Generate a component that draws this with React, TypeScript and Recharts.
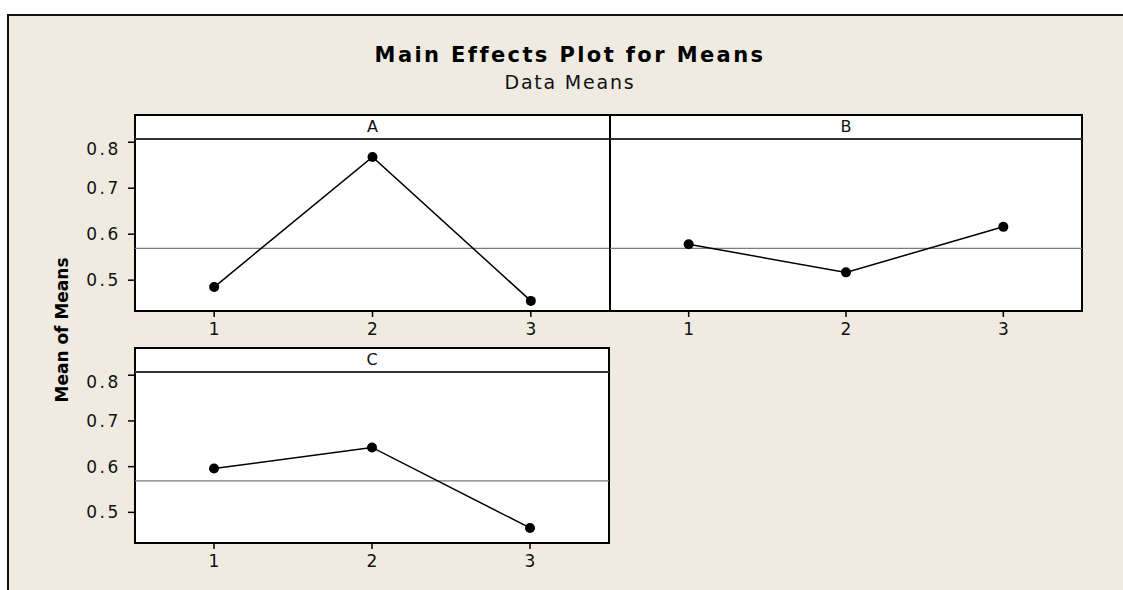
import React from 'react';
import { LineChart, Line, XAxis, YAxis, ReferenceLine } from 'recharts';

// factor levels and the data means
const LEVELS = [1, 2, 3];
const MEANS_A = [0.485, 0.768, 0.455];
const MEANS_B = [0.578, 0.517, 0.616];
const MEANS_C = [0.596, 0.642, 0.466];
const GRAND_MEAN = 0.569;
const Y_TICKS = [0.5, 0.6, 0.7, 0.8];
const Y_DOMAIN = [0.433, 0.807];

const FONT = '"DejaVu Sans", Verdana, sans-serif';
const BG = '#EFEBE1';
const HEADER_H = 24;
const AXIS_W = 60;
const AXIS_H = 36;

interface PanelProps {
  label: string;
  values: number[];
  x: number;
  y: number;
  w: number;
  h: number;
  showY?: boolean;
}

function Panel({ label, values, x, y, w, h, showY }: PanelProps) {
  const data = LEVELS.map((level, i) => ({ level, mean: values[i] }));
  const offset = showY ? AXIS_W : 0;
  return (
    <>
      <div
        style={{
          position: 'absolute', left: x - 1, top: y - HEADER_H - 1, width: w + 2, height: h + HEADER_H + 2,
          boxSizing: 'border-box', border: '2px solid #000', background: '#fff',
        }}
      />
      <div
        style={{
          position: 'absolute', left: x, top: y - HEADER_H, width: w, height: HEADER_H + 1,
          boxSizing: 'border-box', borderBottom: '2px solid #333', textAlign: 'center',
          fontFamily: FONT, fontSize: 16, lineHeight: '23px', color: '#111',
        }}
      >
        {label}
      </div>
      <div style={{ position: 'absolute', left: x - offset, top: y }}>
        <LineChart width={w + offset} height={h + AXIS_H} data={data} margin={{ top: 0, right: 0, bottom: 0, left: 0 }}>
          <XAxis
            type="number" dataKey="level" domain={[0.5, 3.5]} ticks={LEVELS} height={AXIS_H}
            axisLine={false} tickLine={{ stroke: '#000', strokeWidth: 1.5 }} tickSize={6} tickMargin={6}
            tick={{ fontSize: 17, fill: '#111', fontFamily: FONT }}
          />
          <YAxis
            type="number" domain={Y_DOMAIN} ticks={Y_TICKS} width={AXIS_W} hide={!showY} allowDataOverflow
            axisLine={false} tickLine={{ stroke: '#000', strokeWidth: 1.5 }} tickSize={7} tickMargin={7}
            tickFormatter={(v: number) => v.toFixed(1)}
            tick={{ fontSize: 17, fill: '#111', fontFamily: FONT, letterSpacing: 2.6 }}
          />
          <ReferenceLine y={GRAND_MEAN} stroke="#7a7a7a" strokeWidth={1.3} />
          <Line
            dataKey="mean" stroke="#000" strokeWidth={1.5}
            dot={{ r: 5, fill: '#000', stroke: '#000', strokeWidth: 0 }}
            activeDot={false} isAnimationActive={false}
          />
        </LineChart>
      </div>
    </>
  );
}

export default function App() {
  return (
    <div style={{ position: 'absolute', left: 0, top: 0, width: 1123, height: 590, background: '#fff', overflow: 'hidden' }}>
      <div
        style={{
          position: 'absolute', left: 7, top: 14, width: 1116, height: 576, boxSizing: 'border-box',
          background: BG, borderTop: '2px solid #111', borderLeft: '2px solid #111',
        }}
      />
      <div
        style={{
          position: 'absolute', left: 0, top: 43, width: 1140, textAlign: 'center', lineHeight: 'normal',
          fontFamily: FONT, fontWeight: 'bold', fontSize: 21, letterSpacing: 2.4, color: '#000',
        }}
      >
        Main Effects Plot for Means
      </div>
      <div
        style={{
          position: 'absolute', left: 0, top: 71, width: 1140, textAlign: 'center', lineHeight: 'normal',
          fontFamily: FONT, fontSize: 19, letterSpacing: 1.8, color: '#111',
        }}
      >
        Data Means
      </div>
      <div
        style={{
          position: 'absolute', left: 62, top: 330, transform: 'translate(-50%, -50%) rotate(-90deg)',
          whiteSpace: 'nowrap', fontFamily: FONT, fontWeight: 'bold', fontSize: 17, color: '#000',
        }}
      >
        Mean of Means
      </div>
      <Panel label="A" values={MEANS_A} x={135} y={139} w={475} h={172} showY />
      <Panel label="B" values={MEANS_B} x={610} y={139} w={472} h={172} />
      <Panel label="C" values={MEANS_C} x={135} y={372} w={474} h={171} showY />
    </div>
  );
}
